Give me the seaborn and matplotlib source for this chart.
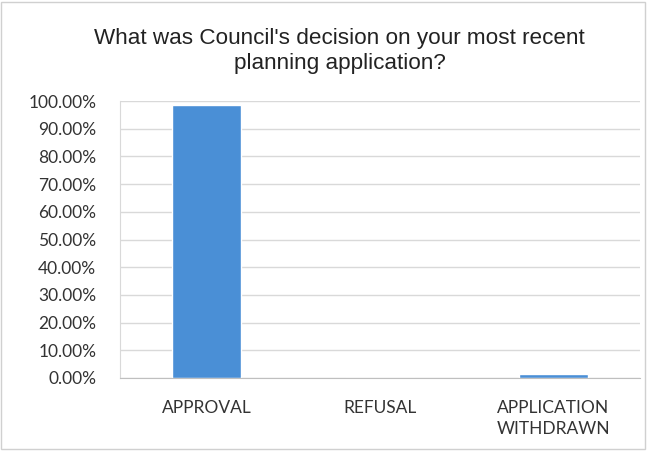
import matplotlib
matplotlib.use('Agg')
import matplotlib.pyplot as plt
import seaborn as sns
import pandas as pd
from matplotlib.ticker import FuncFormatter
from matplotlib.patches import Rectangle

categories = ['APPROVAL', 'REFUSAL', 'APPLICATION\nWITHDRAWN']
shares = [98.6, 0.0, 1.4]

df = pd.DataFrame({'decision': categories, 'share': shares})

sns.set_style('white')
plt.rcParams['font.family'] = ['Lato', 'DejaVu Sans']

fig = plt.figure(figsize=(6.48, 4.51), dpi=100)
ax = fig.add_axes([120 / 648, (451 - 378) / 451, 520 / 648, 277 / 451])

sns.barplot(data=df, x='decision', y='share', color='#4a8fd6', width=0.4,
            saturation=1, ax=ax)

ax.set_ylim(0, 100)
ax.set_yticks(range(0, 101, 10))
ax.yaxis.set_major_formatter(FuncFormatter(lambda v, p: f'{v:.2f}%'))
ax.grid(axis='y', color='#d9d9d9', linewidth=1)
ax.set_axisbelow(True)
for s in ['top', 'right']:
    ax.spines[s].set_visible(False)
ax.spines['left'].set_color('#d9d9d9')
ax.spines['bottom'].set_color('#bfbfbf')
ax.tick_params(axis='both', length=0, labelsize=12.5, colors='#333333')
ax.tick_params(axis='y', pad=17)
ax.tick_params(axis='x', pad=16)
for lbl in ax.get_xticklabels():
    lbl.set_linespacing(1.4)
ax.set_xlabel('')
ax.set_ylabel('')

fig.text(0.524, 0.888, "What was Council's decision on your most recent\nplanning application?",
         ha='center', va='center', fontsize=16.2, family='Liberation Sans',
         color='#222222', linespacing=1.25)

fig.patches.append(Rectangle((0.002, 0.005), 0.994, 0.99, transform=fig.transFigure,
                             fill=False, edgecolor='#d0d0d0', linewidth=1))

fig.savefig('out.png', dpi=100)
